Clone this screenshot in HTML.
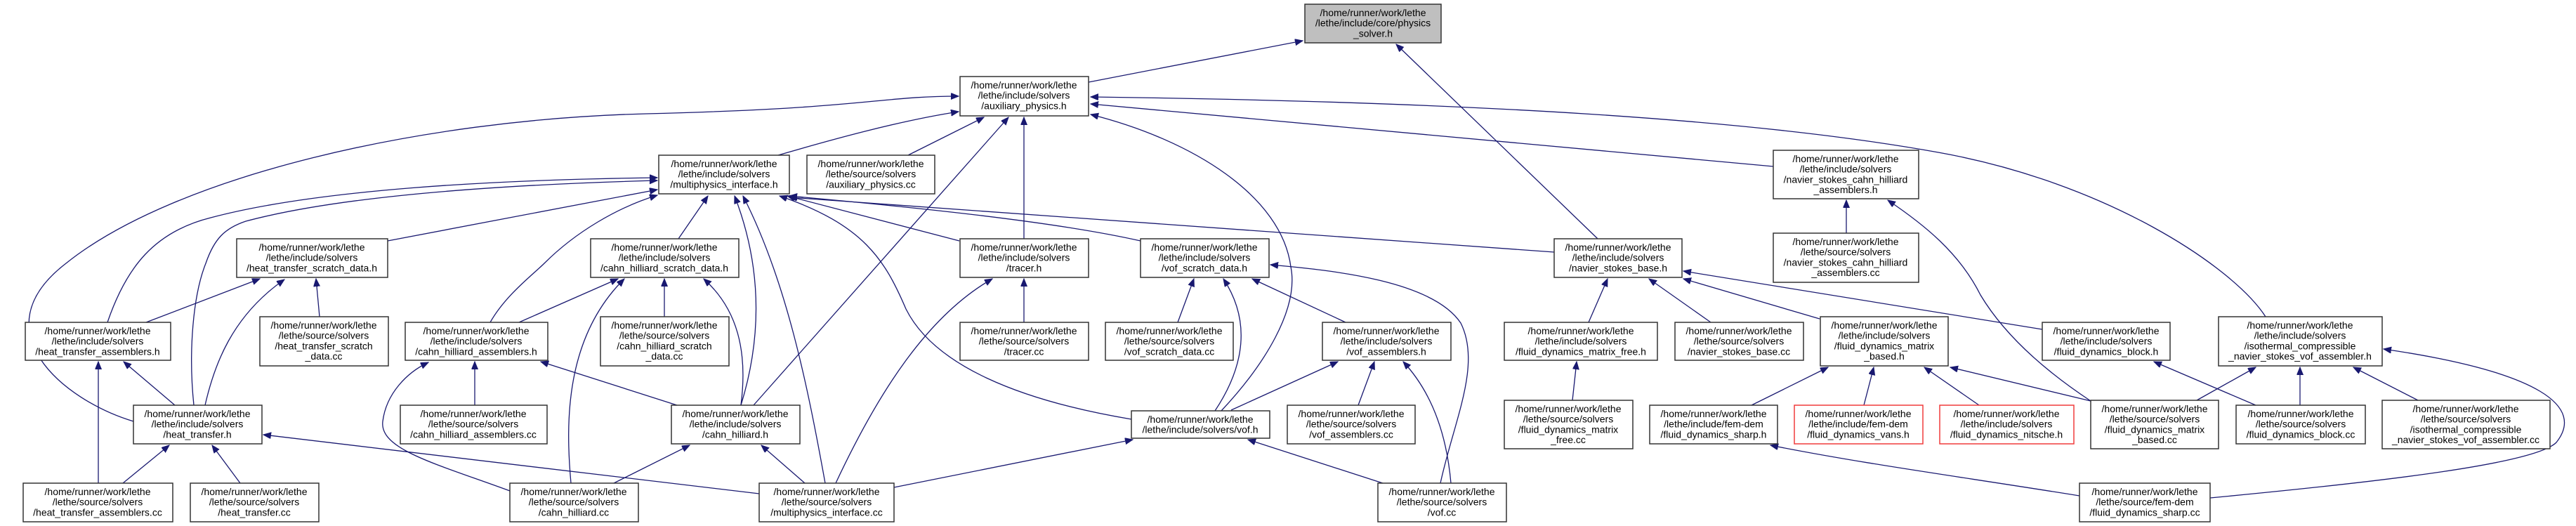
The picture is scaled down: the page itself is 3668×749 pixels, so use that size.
<!DOCTYPE html>
<html><head><meta charset="utf-8"><style>
html,body{margin:0;padding:0;background:#fff;}
svg{display:block;}
text{font-family:"Liberation Sans",sans-serif;font-size:14px;fill:#000;text-anchor:middle;}
.n{fill:#fff;stroke:#333;stroke-width:1.5;}
.g{fill:#bfbfbf;stroke:#333;stroke-width:1.5;}
.r{fill:#fff;stroke:#f03c3c;stroke-width:1.5;}
.e{fill:none;stroke:#191970;stroke-width:1.3;marker-end:url(#a);}
</style></head><body>
<svg width="3668" height="749" viewBox="0 0 3668 749" xmlns="http://www.w3.org/2000/svg">
<defs><marker id="a" markerUnits="userSpaceOnUse" markerWidth="12" markerHeight="10" refX="11" refY="4.5" orient="auto"><path d="M0,0 L11,4.5 L0,9 z" fill="#191970" stroke="#191970"/></marker></defs>

<!-- edges -->
<path class="e" d="M1550,117 L1855,58"/>
<path class="e" d="M2275,340 L1988,63"/>
<path class="e" d="M1108,221 C1180,200 1280,172 1365,159"/>
<path class="e" d="M1293,221 L1401,167"/>
<path class="e" d="M1458,340 L1458,167"/>
<path class="e" d="M1073,577 L1436,167"/>
<path class="e" d="M190,600 C90,570 -30,470 94,375 C250,250 600,170 920,162 S1250,137 1365,137"/>
<path class="e" d="M1739,585 C1800,520 1850,440 1838,380 C1825,280 1700,200 1553,163"/>
<path class="e" d="M2525,237 L1553,148"/>
<path class="e" d="M3226,451 C3180,380 3000,260 2760,217 C2500,170 2100,145 1553,138"/>
<path class="e" d="M552,343 L936,270"/>
<path class="e" d="M153,459 C180,380 220,330 300,310 C450,270 700,256 936,253"/>
<path class="e" d="M276,577 C268,500 275,420 293,375 C305,340 320,325 350,315 C500,275 750,262 936,257"/>
<path class="e" d="M698,459 C720,420 760,390 775,375 C820,330 880,295 936,278"/>
<path class="e" d="M966,340 L1008,279"/>
<path class="e" d="M1055,577 C1085,480 1085,380 1046,279"/>
<path class="e" d="M1175,688 C1150,550 1120,400 1058,279"/>
<path class="e" d="M1611,597 C1450,570 1330,520 1290,440 C1260,370 1230,320 1110,279"/>
<path class="e" d="M1366,343 L1121,279"/>
<path class="e" d="M1624,343 C1500,315 1300,295 1124,279"/>
<path class="e" d="M2213,359 L1124,281"/>
<path class="e" d="M208,459 L370,397"/>
<path class="e" d="M292,577 C305,520 330,450 405,398"/>
<path class="e" d="M455,451 L450,397"/>
<path class="e" d="M140,688 L140,515"/>
<path class="e" d="M249,577 L176,515"/>
<path class="e" d="M175,688 L241,634"/>
<path class="e" d="M342,688 L302,634"/>
<path class="e" d="M1081,703 L375,619"/>
<path class="e" d="M739,459 L880,397"/>
<path class="e" d="M813,688 C805,600 805,480 889,397"/>
<path class="e" d="M946,451 L946,397"/>
<path class="e" d="M1055,577 C1065,500 1050,440 1002,397"/>
<path class="e" d="M676,577 L676,515"/>
<path class="e" d="M726,699 C620,660 540,640 545,600 C550,560 580,530 610,516"/>
<path class="e" d="M964,577 L770,515"/>
<path class="e" d="M874,688 L982,634"/>
<path class="e" d="M1146,688 L1084,634"/>
<path class="e" d="M1458,459 L1458,397"/>
<path class="e" d="M1190,688 C1250,560 1320,450 1413,397"/>
<path class="e" d="M1677,459 L1700,397"/>
<path class="e" d="M1730,585 C1760,540 1790,470 1742,397"/>
<path class="e" d="M1916,459 L1783,397"/>
<path class="e" d="M2051,688 C2070,600 2110,520 2080,460 C2040,400 1900,385 1809,377"/>
<path class="e" d="M1273,694 L1613,626"/>
<path class="e" d="M1969,688 L1777,626"/>
<path class="e" d="M1753,584 L1905,515"/>
<path class="e" d="M1934,577 L1957,515"/>
<path class="e" d="M2066,688 C2060,620 2040,560 1998,515"/>
<path class="e" d="M2262,459 L2289,397"/>
<path class="e" d="M2436,459 L2348,397"/>
<path class="e" d="M2591,454 L2397,397"/>
<path class="e" d="M2908,469 L2397,386"/>
<path class="e" d="M2239,570 L2245,515"/>
<path class="e" d="M2494,577 L2603,523"/>
<path class="e" d="M2654,577 L2668,523"/>
<path class="e" d="M2818,577 L2740,523"/>
<path class="e" d="M2977,571 L2777,523"/>
<path class="e" d="M2977,571 C2900,520 2850,470 2820,420 C2790,360 2740,320 2688,285"/>
<path class="e" d="M2629,332 L2629,285"/>
<path class="e" d="M3212,577 L3067,515"/>
<path class="e" d="M3128,570 L3212,523"/>
<path class="e" d="M3275,577 L3275,523"/>
<path class="e" d="M3443,570 L3351,523"/>
<path class="e" d="M3147,709 C3400,685 3610,660 3640,630 C3680,580 3620,530 3394,497"/>
<path class="e" d="M2961,706 C2800,680 2650,660 2521,634"/>

<!-- nodes -->
<rect class="g" x="1858" y="6" width="194" height="55"/>
<text x="1955" y="23">/home/runner/work/lethe<tspan x="1955" dy="14.7">/lethe/include/core/physics</tspan><tspan x="1955" dy="14.7">_solver.h</tspan></text>

<rect class="n" x="1367" y="109" width="183" height="56"/>
<text x="1458" y="126">/home/runner/work/lethe<tspan x="1458" dy="14.7">/lethe/include/solvers</tspan><tspan x="1458" dy="14.7">/auxiliary_physics.h</tspan></text>

<rect class="n" x="938" y="221" width="186" height="55"/>
<text x="1031" y="238">/home/runner/work/lethe<tspan x="1031" dy="14.7">/lethe/include/solvers</tspan><tspan x="1031" dy="14.7">/multiphysics_interface.h</tspan></text>

<rect class="n" x="1149" y="221" width="182" height="55"/>
<text x="1240" y="238">/home/runner/work/lethe<tspan x="1240" dy="14.7">/lethe/source/solvers</tspan><tspan x="1240" dy="14.7">/auxiliary_physics.cc</tspan></text>

<rect class="n" x="2525" y="214" width="207" height="69"/>
<text x="2628" y="231">/home/runner/work/lethe<tspan x="2628" dy="14.7">/lethe/include/solvers</tspan><tspan x="2628" dy="14.7">/navier_stokes_cahn_hilliard</tspan><tspan x="2628" dy="14.7">_assemblers.h</tspan></text>

<rect class="n" x="337" y="340" width="215" height="55"/>
<text x="444" y="357">/home/runner/work/lethe<tspan x="444" dy="14.7">/lethe/include/solvers</tspan><tspan x="444" dy="14.7">/heat_transfer_scratch_data.h</tspan></text>

<rect class="n" x="841" y="340" width="211" height="55"/>
<text x="946" y="357">/home/runner/work/lethe<tspan x="946" dy="14.7">/lethe/include/solvers</tspan><tspan x="946" dy="14.7">/cahn_hilliard_scratch_data.h</tspan></text>

<rect class="n" x="1367" y="340" width="183" height="55"/>
<text x="1458" y="357">/home/runner/work/lethe<tspan x="1458" dy="14.7">/lethe/include/solvers</tspan><tspan x="1458" dy="14.7">/tracer.h</tspan></text>

<rect class="n" x="1624" y="340" width="183" height="55"/>
<text x="1715" y="357">/home/runner/work/lethe<tspan x="1715" dy="14.7">/lethe/include/solvers</tspan><tspan x="1715" dy="14.7">/vof_scratch_data.h</tspan></text>

<rect class="n" x="2213" y="340" width="182" height="55"/>
<text x="2304" y="357">/home/runner/work/lethe<tspan x="2304" dy="14.7">/lethe/include/solvers</tspan><tspan x="2304" dy="14.7">/navier_stokes_base.h</tspan></text>

<rect class="n" x="2525" y="332" width="207" height="70"/>
<text x="2628" y="349">/home/runner/work/lethe<tspan x="2628" dy="14.7">/lethe/source/solvers</tspan><tspan x="2628" dy="14.7">/navier_stokes_cahn_hilliard</tspan><tspan x="2628" dy="14.7">_assemblers.cc</tspan></text>

<rect class="n" x="3159" y="451" width="233" height="70"/>
<text x="3275" y="468">/home/runner/work/lethe<tspan x="3275" dy="14.7">/lethe/include/solvers</tspan><tspan x="3275" dy="14.7">/isothermal_compressible</tspan><tspan x="3275" dy="14.7">_navier_stokes_vof_assembler.h</tspan></text>

<rect class="n" x="36" y="459" width="207" height="54"/>
<text x="139" y="476">/home/runner/work/lethe<tspan x="139" dy="14.7">/lethe/include/solvers</tspan><tspan x="139" dy="14.7">/heat_transfer_assemblers.h</tspan></text>

<rect class="n" x="370" y="451" width="183" height="70"/>
<text x="461" y="468">/home/runner/work/lethe<tspan x="461" dy="14.7">/lethe/source/solvers</tspan><tspan x="461" dy="14.7">/heat_transfer_scratch</tspan><tspan x="461" dy="14.7">_data.cc</tspan></text>

<rect class="n" x="577" y="459" width="203" height="54"/>
<text x="678" y="476">/home/runner/work/lethe<tspan x="678" dy="14.7">/lethe/include/solvers</tspan><tspan x="678" dy="14.7">/cahn_hilliard_assemblers.h</tspan></text>

<rect class="n" x="855" y="451" width="183" height="70"/>
<text x="946" y="468">/home/runner/work/lethe<tspan x="946" dy="14.7">/lethe/source/solvers</tspan><tspan x="946" dy="14.7">/cahn_hilliard_scratch</tspan><tspan x="946" dy="14.7">_data.cc</tspan></text>

<rect class="n" x="1367" y="459" width="183" height="54"/>
<text x="1458" y="476">/home/runner/work/lethe<tspan x="1458" dy="14.7">/lethe/source/solvers</tspan><tspan x="1458" dy="14.7">/tracer.cc</tspan></text>

<rect class="n" x="1574" y="459" width="182" height="54"/>
<text x="1665" y="476">/home/runner/work/lethe<tspan x="1665" dy="14.7">/lethe/source/solvers</tspan><tspan x="1665" dy="14.7">/vof_scratch_data.cc</tspan></text>

<rect class="n" x="1883" y="459" width="183" height="54"/>
<text x="1974" y="476">/home/runner/work/lethe<tspan x="1974" dy="14.7">/lethe/include/solvers</tspan><tspan x="1974" dy="14.7">/vof_assemblers.h</tspan></text>

<rect class="n" x="2142" y="459" width="218" height="54"/>
<text x="2251" y="476">/home/runner/work/lethe<tspan x="2251" dy="14.7">/lethe/include/solvers</tspan><tspan x="2251" dy="14.7">/fluid_dynamics_matrix_free.h</tspan></text>

<rect class="n" x="2385" y="459" width="183" height="54"/>
<text x="2476" y="476">/home/runner/work/lethe<tspan x="2476" dy="14.7">/lethe/source/solvers</tspan><tspan x="2476" dy="14.7">/navier_stokes_base.cc</tspan></text>

<rect class="n" x="2592" y="451" width="182" height="70"/>
<text x="2683" y="468">/home/runner/work/lethe<tspan x="2683" dy="14.7">/lethe/include/solvers</tspan><tspan x="2683" dy="14.7">/fluid_dynamics_matrix</tspan><tspan x="2683" dy="14.7">_based.h</tspan></text>

<rect class="n" x="2908" y="459" width="182" height="54"/>
<text x="2999" y="476">/home/runner/work/lethe<tspan x="2999" dy="14.7">/lethe/include/solvers</tspan><tspan x="2999" dy="14.7">/fluid_dynamics_block.h</tspan></text>

<rect class="n" x="190" y="577" width="183" height="55"/>
<text x="281" y="594">/home/runner/work/lethe<tspan x="281" dy="14.7">/lethe/include/solvers</tspan><tspan x="281" dy="14.7">/heat_transfer.h</tspan></text>

<rect class="n" x="570" y="577" width="209" height="55"/>
<text x="674" y="594">/home/runner/work/lethe<tspan x="674" dy="14.7">/lethe/source/solvers</tspan><tspan x="674" dy="14.7">/cahn_hilliard_assemblers.cc</tspan></text>

<rect class="n" x="956" y="577" width="183" height="55"/>
<text x="1047" y="594">/home/runner/work/lethe<tspan x="1047" dy="14.7">/lethe/include/solvers</tspan><tspan x="1047" dy="14.7">/cahn_hilliard.h</tspan></text>

<rect class="n" x="1611" y="585" width="197" height="39"/>
<text x="1709" y="602">/home/runner/work/lethe<tspan x="1709" dy="14.7">/lethe/include/solvers/vof.h</tspan></text>

<rect class="n" x="1833" y="577" width="182" height="55"/>
<text x="1924" y="594">/home/runner/work/lethe<tspan x="1924" dy="14.7">/lethe/source/solvers</tspan><tspan x="1924" dy="14.7">/vof_assemblers.cc</tspan></text>

<rect class="n" x="2142" y="570" width="183" height="69"/>
<text x="2233" y="587">/home/runner/work/lethe<tspan x="2233" dy="14.7">/lethe/source/solvers</tspan><tspan x="2233" dy="14.7">/fluid_dynamics_matrix</tspan><tspan x="2233" dy="14.7">_free.cc</tspan></text>

<rect class="n" x="2349" y="577" width="182" height="55"/>
<text x="2440" y="594">/home/runner/work/lethe<tspan x="2440" dy="14.7">/lethe/include/fem-dem</tspan><tspan x="2440" dy="14.7">/fluid_dynamics_sharp.h</tspan></text>

<rect class="r" x="2555" y="577" width="183" height="55"/>
<text x="2646" y="594">/home/runner/work/lethe<tspan x="2646" dy="14.7">/lethe/include/fem-dem</tspan><tspan x="2646" dy="14.7">/fluid_dynamics_vans.h</tspan></text>

<rect class="r" x="2762" y="577" width="191" height="55"/>
<text x="2857" y="594">/home/runner/work/lethe<tspan x="2857" dy="14.7">/lethe/include/solvers</tspan><tspan x="2857" dy="14.7">/fluid_dynamics_nitsche.h</tspan></text>

<rect class="n" x="2977" y="570" width="182" height="69"/>
<text x="3068" y="587">/home/runner/work/lethe<tspan x="3068" dy="14.7">/lethe/source/solvers</tspan><tspan x="3068" dy="14.7">/fluid_dynamics_matrix</tspan><tspan x="3068" dy="14.7">_based.cc</tspan></text>

<rect class="n" x="3184" y="577" width="184" height="55"/>
<text x="3276" y="594">/home/runner/work/lethe<tspan x="3276" dy="14.7">/lethe/source/solvers</tspan><tspan x="3276" dy="14.7">/fluid_dynamics_block.cc</tspan></text>

<rect class="n" x="3392" y="570" width="239" height="69"/>
<text x="3511" y="587">/home/runner/work/lethe<tspan x="3511" dy="14.7">/lethe/source/solvers</tspan><tspan x="3511" dy="14.7">/isothermal_compressible</tspan><tspan x="3511" dy="14.7">_navier_stokes_vof_assembler.cc</tspan></text>

<rect class="n" x="33" y="688" width="213" height="55"/>
<text x="139" y="705">/home/runner/work/lethe<tspan x="139" dy="14.7">/lethe/source/solvers</tspan><tspan x="139" dy="14.7">/heat_transfer_assemblers.cc</tspan></text>

<rect class="n" x="271" y="688" width="183" height="55"/>
<text x="362" y="705">/home/runner/work/lethe<tspan x="362" dy="14.7">/lethe/source/solvers</tspan><tspan x="362" dy="14.7">/heat_transfer.cc</tspan></text>

<rect class="n" x="726" y="688" width="183" height="55"/>
<text x="817" y="705">/home/runner/work/lethe<tspan x="817" dy="14.7">/lethe/source/solvers</tspan><tspan x="817" dy="14.7">/cahn_hilliard.cc</tspan></text>

<rect class="n" x="1081" y="688" width="192" height="55"/>
<text x="1177" y="705">/home/runner/work/lethe<tspan x="1177" dy="14.7">/lethe/source/solvers</tspan><tspan x="1177" dy="14.7">/multiphysics_interface.cc</tspan></text>

<rect class="n" x="1962" y="688" width="183" height="55"/>
<text x="2053" y="705">/home/runner/work/lethe<tspan x="2053" dy="14.7">/lethe/source/solvers</tspan><tspan x="2053" dy="14.7">/vof.cc</tspan></text>

<rect class="n" x="2961" y="688" width="186" height="55"/>
<text x="3054" y="705">/home/runner/work/lethe<tspan x="3054" dy="14.7">/lethe/source/fem-dem</tspan><tspan x="3054" dy="14.7">/fluid_dynamics_sharp.cc</tspan></text>
</svg>
</body></html>
